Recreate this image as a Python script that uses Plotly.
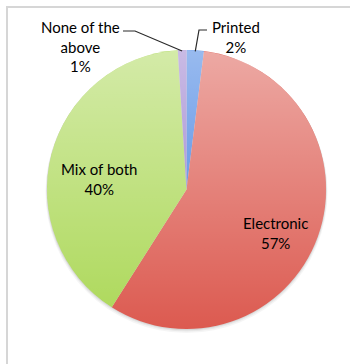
import base64
import numpy as np
import plotly.graph_objects as go

# Survey responses: preferred format
labels = ["Printed", "Electronic", "Mix of both", "None of the above"]
values = [2, 57, 40, 1]
label_text = ["Printed", "Electronic", "Mix of both", "None of the<br>above"]

colors = ["#3a7be0", "#dc5a50", "#acd858", "#977bcc"]

W, H = 350, 364
CX, CY, R = 186.5, 189.5, 139.5


def px(x):
    return x / W


def py(y):
    return 1 - y / H


fig = go.Figure()
fig.add_trace(go.Pie(
    labels=labels,
    values=values,
    sort=False,
    direction="clockwise",
    rotation=0,
    marker=dict(colors=colors, line=dict(width=0)),
    textinfo="none",
    hoverinfo="label+percent",
    showlegend=False,
    domain=dict(x=[px(CX - R), px(CX + R)], y=[py(CY + R), py(CY - R)]),
))

total = float(sum(values))
pcts = [round(100 * v / total) for v in values]
cum = np.cumsum(values)
mid = 2 * np.pi * (cum - np.array(values) / 2.0) / total
tips = [(CX + R * np.sin(t), CY - R * np.cos(t)) for t in mid]

font = dict(family="Lato", size=15, color="#000000")

# label block centres (pixels)
label_pos = {
    "Electronic": (275.5, 233),
    "Mix of both": (99, 179),
    "Printed": (236, 37),
    "None of the above": (80, 47),
}
annotations = []
for lab, txt, p in zip(labels, label_text, pcts):
    x, y = label_pos[lab]
    annotations.append(dict(
        x=px(x), y=py(y), xref="paper", yref="paper",
        text=f"{txt}<br>{p}%", showarrow=False,
        xanchor="center", yanchor="middle", font=font, align="center",
    ))

shapes = []
# chart frame
shapes.append(dict(type="rect", xref="paper", yref="paper",
                   x0=px(7), x1=px(353), y0=py(367), y1=py(7),
                   line=dict(color="#d6d6d6", width=2), layer="below"))
# soft drop shadow under the pie
for d, a in [(4, 0.04), (2.5, 0.05), (1.2, 0.07)]:
    shapes.append(dict(type="circle", xref="paper", yref="paper",
                       x0=px(CX - R - d * 0.4), x1=px(CX + R + d * 0.4),
                       y0=py(CY + R + d), y1=py(CY - R + d * 0.3),
                       fillcolor=f"rgba(0,0,0,{a})", line=dict(width=0),
                       layer="below"))

# leader lines for the two small slices
elbows = {
    "Printed": [(207, 30), (199, 30)],
    "None of the above": [(123, 31), (135, 31)],
}
for lab, (tx, ty) in zip(labels, tips):
    if lab in elbows:
        pts = elbows[lab] + [(tx, ty + 1)]
        path = "M " + " L ".join(f"{px(a):.5f},{py(b):.5f}" for a, b in pts)
        shapes.append(dict(type="path", xref="paper", yref="paper", path=path,
                           line=dict(color="#2a2a2a", width=1.2)))

# light sheen over the pie surface
svg = ('<svg xmlns="http://www.w3.org/2000/svg" viewBox="0 0 100 100">'
       '<defs><linearGradient id="g" x1="0" y1="0" x2="0" y2="1">'
       '<stop offset="0" stop-color="#ffffff" stop-opacity="0.48"/>'
       '<stop offset="1" stop-color="#ffffff" stop-opacity="0"/>'
       '</linearGradient></defs>'
       '<circle cx="50" cy="50" r="50" fill="url(#g)"/></svg>')
src = "data:image/svg+xml;base64," + base64.b64encode(svg.encode()).decode()

fig.update_layout(
    width=W, height=H,
    margin=dict(l=0, r=0, t=0, b=0),
    paper_bgcolor="white", plot_bgcolor="white",
    annotations=annotations,
    shapes=shapes,
    images=[dict(source=src, xref="paper", yref="paper",
                 x=px(CX - R), y=py(CY - R), sizex=2 * R / W, sizey=2 * R / H,
                 xanchor="left", yanchor="top", sizing="stretch", layer="above")],
)

fig.write_html("out.html")
